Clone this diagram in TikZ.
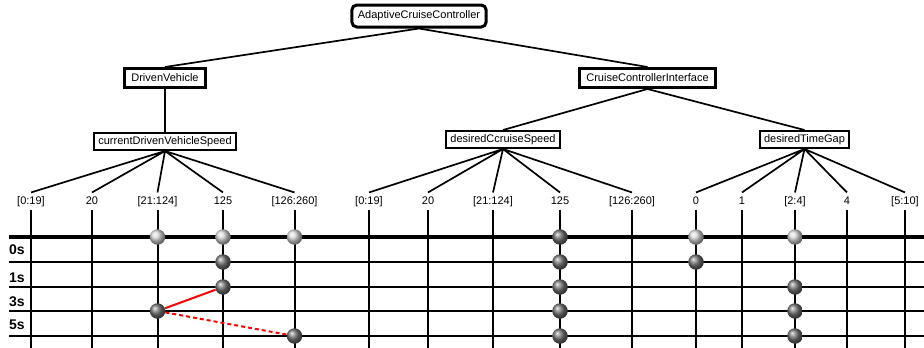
\documentclass[tikz,border=0pt]{standalone}
\usepackage{fontspec}
\setmainfont{Liberation Sans}
\usetikzlibrary{positioning}

\begin{document}
\begin{tikzpicture}[x=1pt,y=-1pt,font=\fontsize{11}{13}\selectfont,
  root/.style={draw,line width=3pt,rounded corners=5pt,minimum height=22pt,inner xsep=6pt},
  group/.style={draw,line width=3pt,minimum height=19pt,inner xsep=6.5pt},
  attr/.style={draw,line width=2pt,minimum height=17pt,inner xsep=4pt},
  val/.style={text height=8pt,text depth=2pt},
  row/.style={anchor=west,inner sep=0pt,font=\fontsize{14}{16}\selectfont\bfseries},
  hi/.style={circle,inner sep=0pt,minimum size=15.5pt,ball color=gray!30},
  lo/.style={circle,inner sep=0pt,minimum size=15.5pt,ball color=black!55}]
\useasboundingbox (0,0) rectangle (924,348);
\node[root] (acc) at (419,16) {AdaptiveCruiseController};
\node[group] (dv) at (165,78) {DrivenVehicle};
\node[group] (cci) at (647.5,78) {CruiseControllerInterface};
\node[attr] (cdvs) [below=43pt of dv] {currentDrivenVehicleSpeed};
\node[attr] (dcs) at (503,139.5) {desiredCcruiseSpeed};
\node[attr] (dtg) at (804.5,139.5) {desiredTimeGap};
\node[val] (v1) at (31,201) {[0:19]};
\node[val] (v2) at (92,201) {20};
\node[val] (v3) at (157.5,201) {[21:124]};
\node[val] (v4) at (223,201) {125};
\node[val] (v5) at (294.5,201) {[126:260]};
\node[val] (w1) at (369,201) {[0:19]};
\node[val] (w2) at (428,201) {20};
\node[val] (w3) at (493,201) {[21:124]};
\node[val] (w4) at (560,201) {125};
\node[val] (w5) at (632,201) {[126:260]};
\node[val] (g1) at (696,201) {0};
\node[val] (g2) at (742,201) {1};
\node[val] (g3) at (795,201) {[2:4]};
\node[val] (g4) at (847,201) {4};
\node[val] (g5) at (905,201) {[5:10]};
\coordinate (b) at (0,348);
\draw[line width=1.7pt] (acc.south)--(dv.north) (acc.south)--(cci.north) (dv.south)--(cdvs.north) (cci.south)--(dcs.north) (cci.south)--(dtg.north);
\draw[line width=1.7pt] (cdvs.south)--(v1.north) (cdvs.south)--(v2.north) (cdvs.south)--(v3.north) (cdvs.south)--(v4.north) (cdvs.south)--(v5.north);
\draw[line width=1.7pt] (dcs.south)--(w1.north) (dcs.south)--(w2.north) (dcs.south)--(w3.north) (dcs.south)--(w4.north) (dcs.south)--(w5.north);
\draw[line width=1.7pt] (dtg.south)--(g1.north) (dtg.south)--(g2.north) (dtg.south)--(g3.north) (dtg.south)--(g4.north) (dtg.south)--(g5.north);
\draw[line width=2pt] (v1.south)--(v1.south|-b) (v2.south)--(v2.south|-b) (v3.south)--(v3.south|-b) (v4.south)--(v4.south|-b) (v5.south)--(v5.south|-b);
\draw[line width=2pt] (w1.south)--(w1.south|-b) (w2.south)--(w2.south|-b) (w3.south)--(w3.south|-b) (w4.south)--(w4.south|-b) (w5.south)--(w5.south|-b);
\draw[line width=2pt] (g1.south)--(g1.south|-b) (g2.south)--(g2.south|-b) (g3.south)--(g3.south|-b) (g4.south)--(g4.south|-b) (g5.south)--(g5.south|-b);
\draw[line width=4.5pt] (9,237)--(924,237);
\draw[line width=1.8pt] (9,262)--(924,262) (9,287)--(924,287) (9,311)--(924,311) (9,336)--(924,336);
\node[row] (t0) at (9,250) {0s};
\node[row] (t1) at (9,278) {1s};
\node[row] (t3) at (9,302) {3s};
\node[row] (t5) at (9,325) {5s};
\node[hi] (a1) at (157.5,237) {};
\node[hi] (a2) at (223,237) {};
\node[hi] (a3) at (294.5,237) {};
\node[lo] (a4) at (560,237) {};
\node[hi] (a5) at (696,237) {};
\node[hi] (a6) at (795,237) {};
\node[lo] (c1) at (223,262) {};
\node[lo] (c2) at (560,262) {};
\node[lo] (c3) at (696,262) {};
\node[lo] (d1) at (223,287) {};
\node[lo] (d2) at (560,287) {};
\node[lo] (d3) at (795,287) {};
\node[lo] (e1) at (157.5,311) {};
\node[lo] (e2) at (560,311) {};
\node[lo] (e3) at (795,311) {};
\node[lo] (f1) at (294.5,336) {};
\node[lo] (f2) at (560,336) {};
\node[lo] (f3) at (795,336) {};
\draw[red,line width=2pt] (e1)--(d1);
\draw[red,line width=2pt,dash pattern=on 4pt off 3pt] (e1)--(f1);
\end{tikzpicture}
\end{document}
